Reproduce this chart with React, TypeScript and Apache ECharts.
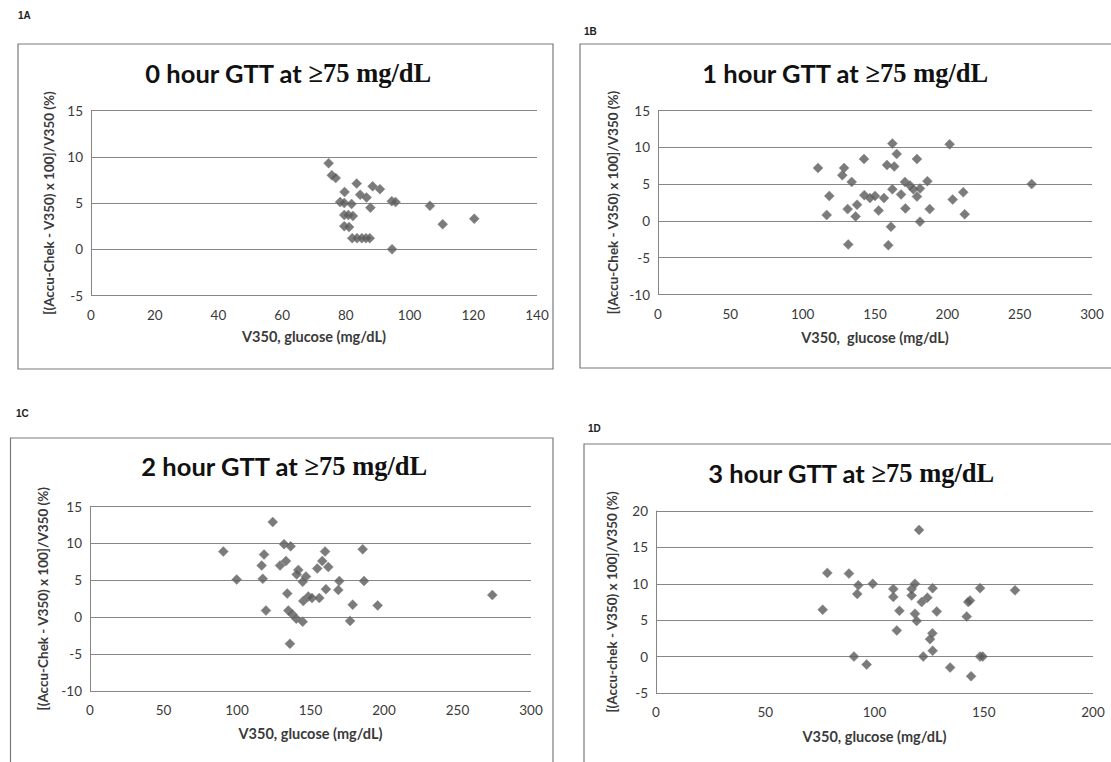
import React, { useEffect, useRef } from "react";
import * as echarts from "echarts";

// Panel 1A: 0 hour GTT
const gtt0X = [74.6, 75.6, 76.8, 83.4, 88.4, 90.7, 79.6, 84.5, 86.5, 78.2, 79.5, 81.8, 87.7, 94.4, 95.6, 106.4, 79.5, 80.8, 82.2, 79.5, 81, 82, 83.5, 85, 86.3, 87.5, 94.5, 110.4, 120.3];
const gtt0Y = [9.3, 8.0, 7.7, 7.1, 6.8, 6.5, 6.2, 5.9, 5.6, 5.1, 5.0, 4.9, 4.5, 5.2, 5.1, 4.7, 3.7, 3.7, 3.6, 2.5, 2.4, 1.2, 1.2, 1.2, 1.2, 1.2, 0, 2.7, 3.3];

// Panel 1B: 1 hour GTT
const gtt1X = [162, 201.6, 165, 142.4, 179, 110.6, 128.6, 158.3, 163.3, 127.4, 133.9, 170.7, 174.2, 176.5, 181.1, 186.2, 258.3, 162, 118.4, 142.6, 146.5, 150, 156.2, 168, 179, 211, 203.7, 137.6, 131.1, 136.6, 152.5, 171, 187.8, 116.6, 212, 181.1, 161, 131.5, 159.2];
const gtt1Y = [10.5, 10.4, 9.1, 8.4, 8.4, 7.2, 7.2, 7.6, 7.4, 6.2, 5.3, 5.3, 4.8, 4.3, 4.4, 5.4, 5.0, 4.3, 3.4, 3.5, 3.1, 3.4, 3.1, 3.6, 3.3, 3.9, 2.9, 2.2, 1.6, 0.6, 1.4, 1.7, 1.6, 0.8, 0.9, -0.1, -0.8, -3.2, -3.3];

// Panel 1C: 2 hour GTT
const gtt2X = [124.3, 90.7, 118.4, 132, 136.5, 159.9, 185.5, 116.8, 129.3, 133.3, 158, 162.1, 154.6, 141.7, 140.6, 146.9, 144.7, 99.8, 117.5, 169.6, 168.9, 186.4, 160.5, 134.2, 148.5, 145.1, 151, 156, 178.7, 195.7, 273.7, 119.7, 134.9, 137.6, 140.3, 144.7, 176.9, 136];
const gtt2Y = [12.9, 8.9, 8.5, 9.9, 9.6, 8.9, 9.2, 7.0, 7.0, 7.6, 7.6, 6.8, 6.6, 6.4, 5.8, 5.5, 4.8, 5.1, 5.2, 4.9, 3.7, 4.9, 3.8, 3.2, 2.8, 2.2, 2.6, 2.6, 1.7, 1.6, 3.0, 0.9, 0.9, 0.4, -0.2, -0.6, -0.5, -3.6];

// Panel 1D: 3 hour GTT
const gtt3X = [78.4, 76.3, 88.3, 92.6, 92.1, 99.2, 108.6, 108.6, 111.4, 110.2, 117, 118.5, 117, 126.6, 121.6, 124.2, 118.5, 119.3, 128.5, 126.5, 125.4, 126.6, 122.3, 90.6, 96.4, 134.6, 144.2, 148.3, 143.7, 142.9, 142.2, 148.3, 149.5, 164.3, 120.4];
const gtt3Y = [11.5, 6.45, 11.4, 9.8, 8.6, 10.0, 9.3, 8.2, 6.3, 3.6, 9.3, 10.0, 8.4, 9.4, 7.5, 8.1, 5.9, 4.9, 6.2, 3.2, 2.4, 0.8, 0, 0, -1.1, -1.5, -2.7, 9.4, 7.7, 7.5, 5.5, 0, 0, 9.1, 17.4];

const panelLabels = ["1A", "1B", "1C", "1D"];
const panelHours = ["0", "1", "2", "3"];
const xMax = [140, 300, 300, 200];
const xStep = [20, 50, 50, 50];
const yMin = [-5, -10, -10, -5];
const yMax = [15, 15, 15, 20];
const yNames = [
  "[(Accu-Chek - V350) x 100]/V350 (%)",
  "[(Accu-Chek - V350) x 100]/V350 (%)",
  "[(Accu-Chek - V350) x 100]/V350 (%)",
  "[(Accu-chek - V350) x 100]/V350 (%)",
];
const xNames = ["V350, glucose (mg/dL)", "V350,  glucose (mg/dL)", "V350, glucose (mg/dL)", "V350, glucose (mg/dL)"];

const xs = [gtt0X, gtt1X, gtt2X, gtt3X];
const ys = [gtt0Y, gtt1Y, gtt2Y, gtt3Y];

// layout
const grids = [
  { left: 91, top: 110.5, width: 446, height: 185 },
  { left: 658, top: 110.5, width: 434, height: 184 },
  { left: 90, top: 506.5, width: 441, height: 184.5 },
  { left: 656, top: 511, width: 437, height: 182 },
];
const boxes = [
  { x: 18, y: 44, w: 535, h: 325 },
  { x: 580, y: 44, w: 540, h: 324 },
  { x: 10.5, y: 438, w: 542.5, h: 340 },
  { x: 584, y: 444, w: 540, h: 340 },
];
const titlePos = [
  [288, 73],
  [845, 73],
  [284, 466],
  [851, 473],
];
const labelPos = [
  [18, 15],
  [584, 31],
  [16, 413],
  [588, 428],
];
const xNameGap = [33, 35, 35, 36];
const yNameGap = [35, 38, 40, 37];

const GRAY = "#868686";
const TXT = "#3a3a3a";

export default function App() {
  const ref = useRef<HTMLDivElement>(null);
  useEffect(() => {
    if (!ref.current) return;
    const chart = echarts.init(ref.current, undefined, { renderer: "svg" });
    const graphics: any[] = [];
    boxes.forEach((b) => {
      graphics.push({
        type: "rect",
        shape: { x: b.x, y: b.y, width: b.w, height: b.h },
        style: { fill: "none", stroke: "#7a7a7a", lineWidth: 1.2 },
        silent: true,
      });
    });
    labelPos.forEach((p, i) => {
      graphics.push({
        type: "text",
        x: p[0],
        y: p[1],
        style: {
          text: panelLabels[i],
          fill: "#222",
          font: "bold 10px 'Liberation Sans', Arial, sans-serif",
          verticalAlign: "middle",
          align: "left",
        },
      });
    });
    titlePos.forEach((p, i) => {
      graphics.push({
        type: "text",
        x: p[0],
        y: p[1],
        style: {
          text: `{a|${panelHours[i]} hour GTT at }{b|≥75 mg/dL}`,
          align: "center",
          verticalAlign: "middle",
          rich: {
            a: { fontFamily: "Lato", fontWeight: "bold", fontSize: 25.5, fill: "#111", color: "#111" },
            b: { fontFamily: "'Liberation Serif', serif", fontWeight: "bold", fontSize: 26.5, fill: "#111", color: "#111" },
          },
        },
      });
    });

    const option: any = {
      animation: false,
      grid: grids.map((g) => ({ ...g, containLabel: false })),
      xAxis: grids.map((_, i) => ({
        type: "value",
        gridIndex: i,
        min: 0,
        max: xMax[i],
        interval: xStep[i],
        axisLine: { show: false },
        axisTick: { show: false },
        splitLine: { show: false },
        axisLabel: { color: TXT, fontFamily: "Lato", fontSize: 13.5, margin: 12 },
        name: xNames[i],
        nameLocation: "middle",
        nameGap: xNameGap[i],
        nameTextStyle: { color: TXT, fontFamily: "Lato", fontWeight: "bold", fontSize: 14.5 },
      })),
      yAxis: grids.map((_, i) => ({
        type: "value",
        gridIndex: i,
        min: yMin[i],
        max: yMax[i],
        interval: 5,
        axisLine: { show: true, onZero: false, lineStyle: { color: GRAY, width: 1 } },
        axisTick: { show: false },
        splitLine: { show: true, lineStyle: { color: GRAY, width: 1 } },
        axisLabel: { color: TXT, fontFamily: "Lato", fontSize: 13.5, margin: 8 },
        name: yNames[i],
        nameLocation: "middle",
        nameGap: yNameGap[i],
        nameTextStyle: { color: TXT, fontFamily: "Lato", fontWeight: "bold", fontSize: 13.5 },
      })),
      series: grids.map((_, i) => ({
        type: "scatter",
        xAxisIndex: i,
        yAxisIndex: i,
        symbol: "diamond",
        symbolSize: 10,
        itemStyle: { color: "#5a5a5a", borderColor: "#878787", borderWidth: 0.6 },
        data: xs[i].map((x, k) => [x, ys[i][k]]),
      })),
      graphic: graphics,
    };
    chart.setOption(option);
    return () => chart.dispose();
  }, []);
  return (
    <div
      ref={ref}
      style={{ position: "fixed", left: 0, top: 0, width: 1111, height: 762, background: "#fff" }}
    />
  );
}
